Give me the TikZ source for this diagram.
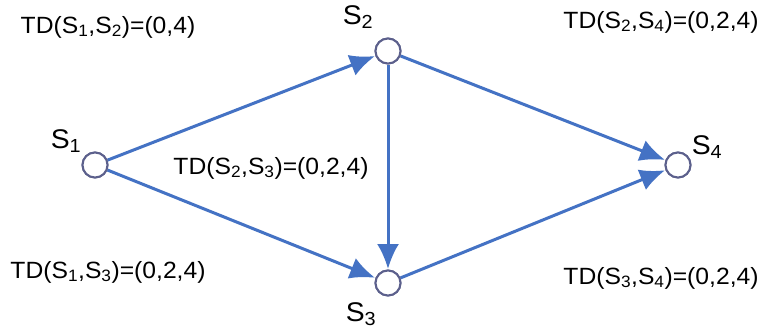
\documentclass[tikz,border=0pt]{standalone}
\usepackage{fontspec}
\setmainfont{Liberation Sans}
\usepackage{graphicx}
\usetikzlibrary{arrows.meta}
\definecolor{edgeblue}{RGB}{68,114,196}
\definecolor{ringcol}{RGB}{92,96,140}
\newcommand{\tdtext}[1]{\scalebox{1.05}[1]{\fontsize{23.5}{26}\selectfont #1}}
\newcommand{\stext}[1]{\scalebox{1.05}[1]{\fontsize{27}{29}\selectfont S\textsubscript{#1}}}
\begin{document}
\begin{tikzpicture}[x=1pt,y=-1pt,
  state/.style={circle,draw=ringcol,fill=white,line width=2pt,minimum size=25pt,inner sep=0pt},
  edge/.style={draw=edgeblue,line width=3pt,-{Latex[length=25pt,width=22pt]},shorten >=0.5pt},
  lbl/.style={inner sep=0pt,text=black}]
\useasboundingbox (0,0) rectangle (762,330);
\fill[white] (0,0) rectangle (762,330);
\node[state] (s1) at (95,165) {};
\node[state] (s2) at (388,51) {};
\node[state] (s3) at (388,283) {};
\node[state] (s4) at (678,165) {};
\draw[edge] (s1) -- (s2);
\draw[edge] (s1) -- (s3);
\draw[edge] (s2) -- (s3);
\draw[edge] (s2) -- (s4);
\draw[edge] (s3) -- (s4);
\node[state] at (s1) {};
\node[state] at (s2) {};
\node[state] at (s3) {};
\node[state] at (s4) {};
\node[lbl] (l1) at (66,141) {\stext{1}};
\node[lbl] (l2) at (358,17) {\stext{2}};
\node[lbl] (l3) at (361,314) {\stext{3}};
\node[lbl] (l4) at (707,147) {\stext{4}};
\node[lbl] (t12) at (108,27) {\tdtext{TD(S\textsubscript{1},S\textsubscript{2})=(0,4)}};
\node[lbl] (t23) at (271,168) {\tdtext{TD(S\textsubscript{2},S\textsubscript{3})=(0,2,4)}};
\node[lbl] (t24) at (661,22) {\tdtext{TD(S\textsubscript{2},S\textsubscript{4})=(0,2,4)}};
\node[lbl] (t13) at (108,272) {\tdtext{TD(S\textsubscript{1},S\textsubscript{3})=(0,2,4)}};
\node[lbl] (t34) at (661,278) {\tdtext{TD(S\textsubscript{3},S\textsubscript{4})=(0,2,4)}};
\end{tikzpicture}
\end{document}
